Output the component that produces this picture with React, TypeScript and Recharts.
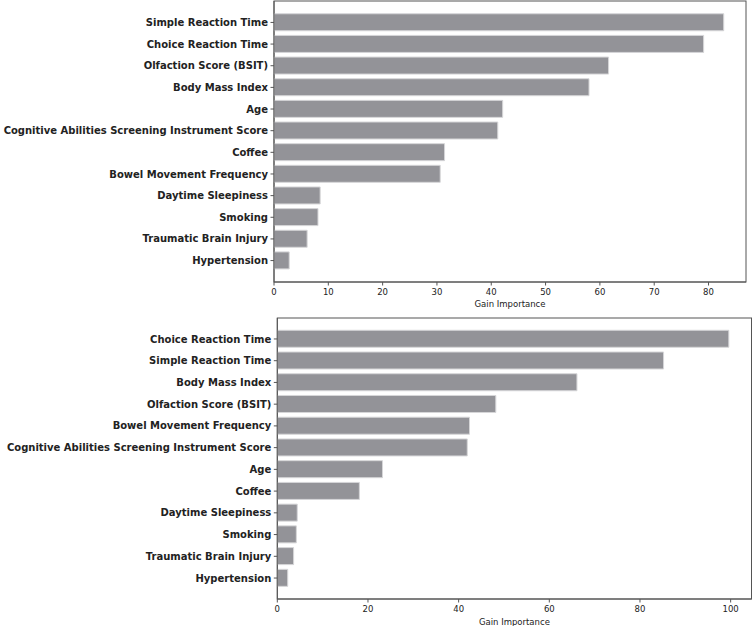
import * as Recharts from "recharts";
import { Bar, BarChart, XAxis, YAxis } from "recharts";

const FONT = "DejaVu Sans";
const BAR = "#939398";
const EDGE = "#d6d6d8";
const SPINE = "#555555";
const INK = "#222222";

const topLabels = [
  "Simple Reaction Time",
  "Choice Reaction Time",
  "Olfaction Score (BSIT)",
  "Body Mass Index",
  "Age",
  "Cognitive Abilities Screening Instrument Score",
  "Coffee",
  "Bowel Movement Frequency",
  "Daytime Sleepiness",
  "Smoking",
  "Traumatic Brain Injury",
  "Hypertension",
];
const topValues = [82.8, 79.1, 61.6, 58.0, 42.1, 41.2, 31.4, 30.6, 8.5, 8.1, 6.1, 2.8];
const topTicks = [0, 10, 20, 30, 40, 50, 60, 70, 80];

const bottomLabels = [
  "Choice Reaction Time",
  "Simple Reaction Time",
  "Body Mass Index",
  "Olfaction Score (BSIT)",
  "Bowel Movement Frequency",
  "Cognitive Abilities Screening Instrument Score",
  "Age",
  "Coffee",
  "Daytime Sleepiness",
  "Smoking",
  "Traumatic Brain Injury",
  "Hypertension",
];
const bottomValues = [99.6, 85.2, 66.1, 48.2, 42.4, 41.9, 23.2, 18.1, 4.4, 4.2, 3.6, 2.3];
const bottomTicks = [0, 20, 40, 60, 80, 100];

const toRows = (labels: string[], values: number[]) =>
  labels.map((name, i) => ({ name, value: values[i] }));

// label on one line, no wrapping
function NameTick({ x, y, payload }: any) {
  return (
    <text x={x} y={y} dy="0.355em" textAnchor="end" fontSize={10} fontWeight="bold" fill={INK} fontFamily={FONT}>
      {payload.value}
    </text>
  );
}

// box round the plot area, like matplotlib spines
function Frame() {
  const usePlotArea = (Recharts as any).usePlotArea;
  const area = usePlotArea ? usePlotArea() : null;
  if (!area) return null;
  return <rect x={area.x} y={area.y} width={area.width} height={area.height} fill="none" stroke={SPINE} strokeWidth={1} />;
}

type PanelProps = {
  rows: { name: string; value: number }[];
  ticks: number[];
  max: number;
  width: number;
  height: number;
  margin: { top: number; right: number; left: number; bottom: number };
  axisHeight: number;
  axisWidth: number;
  pad: number;
  labelOffset: number;
};

function Panel({ rows, ticks, max, width, height, margin, axisHeight, axisWidth, pad, labelOffset }: PanelProps) {
  return (
    <BarChart
      width={width}
      height={height}
      data={rows}
      layout="vertical"
      margin={margin}
      barCategoryGap="10%"
      style={{ fontFamily: FONT }}
    >
      <XAxis
        type="number"
        dataKey="value"
        domain={[0, max]}
        ticks={ticks}
        height={axisHeight}
        stroke={SPINE}
        tickSize={3.5}
        tickMargin={3}
        tick={{ fontSize: 8.5, fill: INK, fontFamily: FONT }}
        label={{ value: "Gain Importance", position: "insideBottom", offset: labelOffset, fontSize: 8.5, fill: INK, fontFamily: FONT }}
      />
      <YAxis
        type="category"
        dataKey="name"
        width={axisWidth}
        stroke={SPINE}
        tickSize={3.5}
        tickMargin={2.5}
        padding={{ top: pad, bottom: pad }}
        interval={0}
        tick={<NameTick />}
      />
      <Bar dataKey="value" fill={BAR} stroke={EDGE} strokeWidth={1} isAnimationActive={false} />
      <Frame />
    </BarChart>
  );
}

export default function App() {
  return (
    <div style={{ position: "absolute", left: 0, top: 0, width: 753, height: 626, background: "#fff" }}>
      <div style={{ position: "absolute", left: 0, top: 0 }}>
        <Panel
          rows={toRows(topLabels, topValues)}
          ticks={topTicks}
          max={86.9}
          width={753}
          height={310}
          margin={{ top: 1, right: 7, left: 0, bottom: 0 }}
          axisHeight={28}
          axisWidth={274}
          pad={10.6}
          labelOffset={3}
        />
      </div>
      <div style={{ position: "absolute", left: 0, top: 310 }}>
        <Panel
          rows={toRows(bottomLabels, bottomValues)}
          ticks={bottomTicks}
          max={104.6}
          width={753}
          height={316}
          margin={{ top: 8, right: 1.5, left: 0, bottom: 0 }}
          axisHeight={27}
          axisWidth={277.3}
          pad={10.1}
          labelOffset={1.5}
        />
      </div>
    </div>
  );
}
